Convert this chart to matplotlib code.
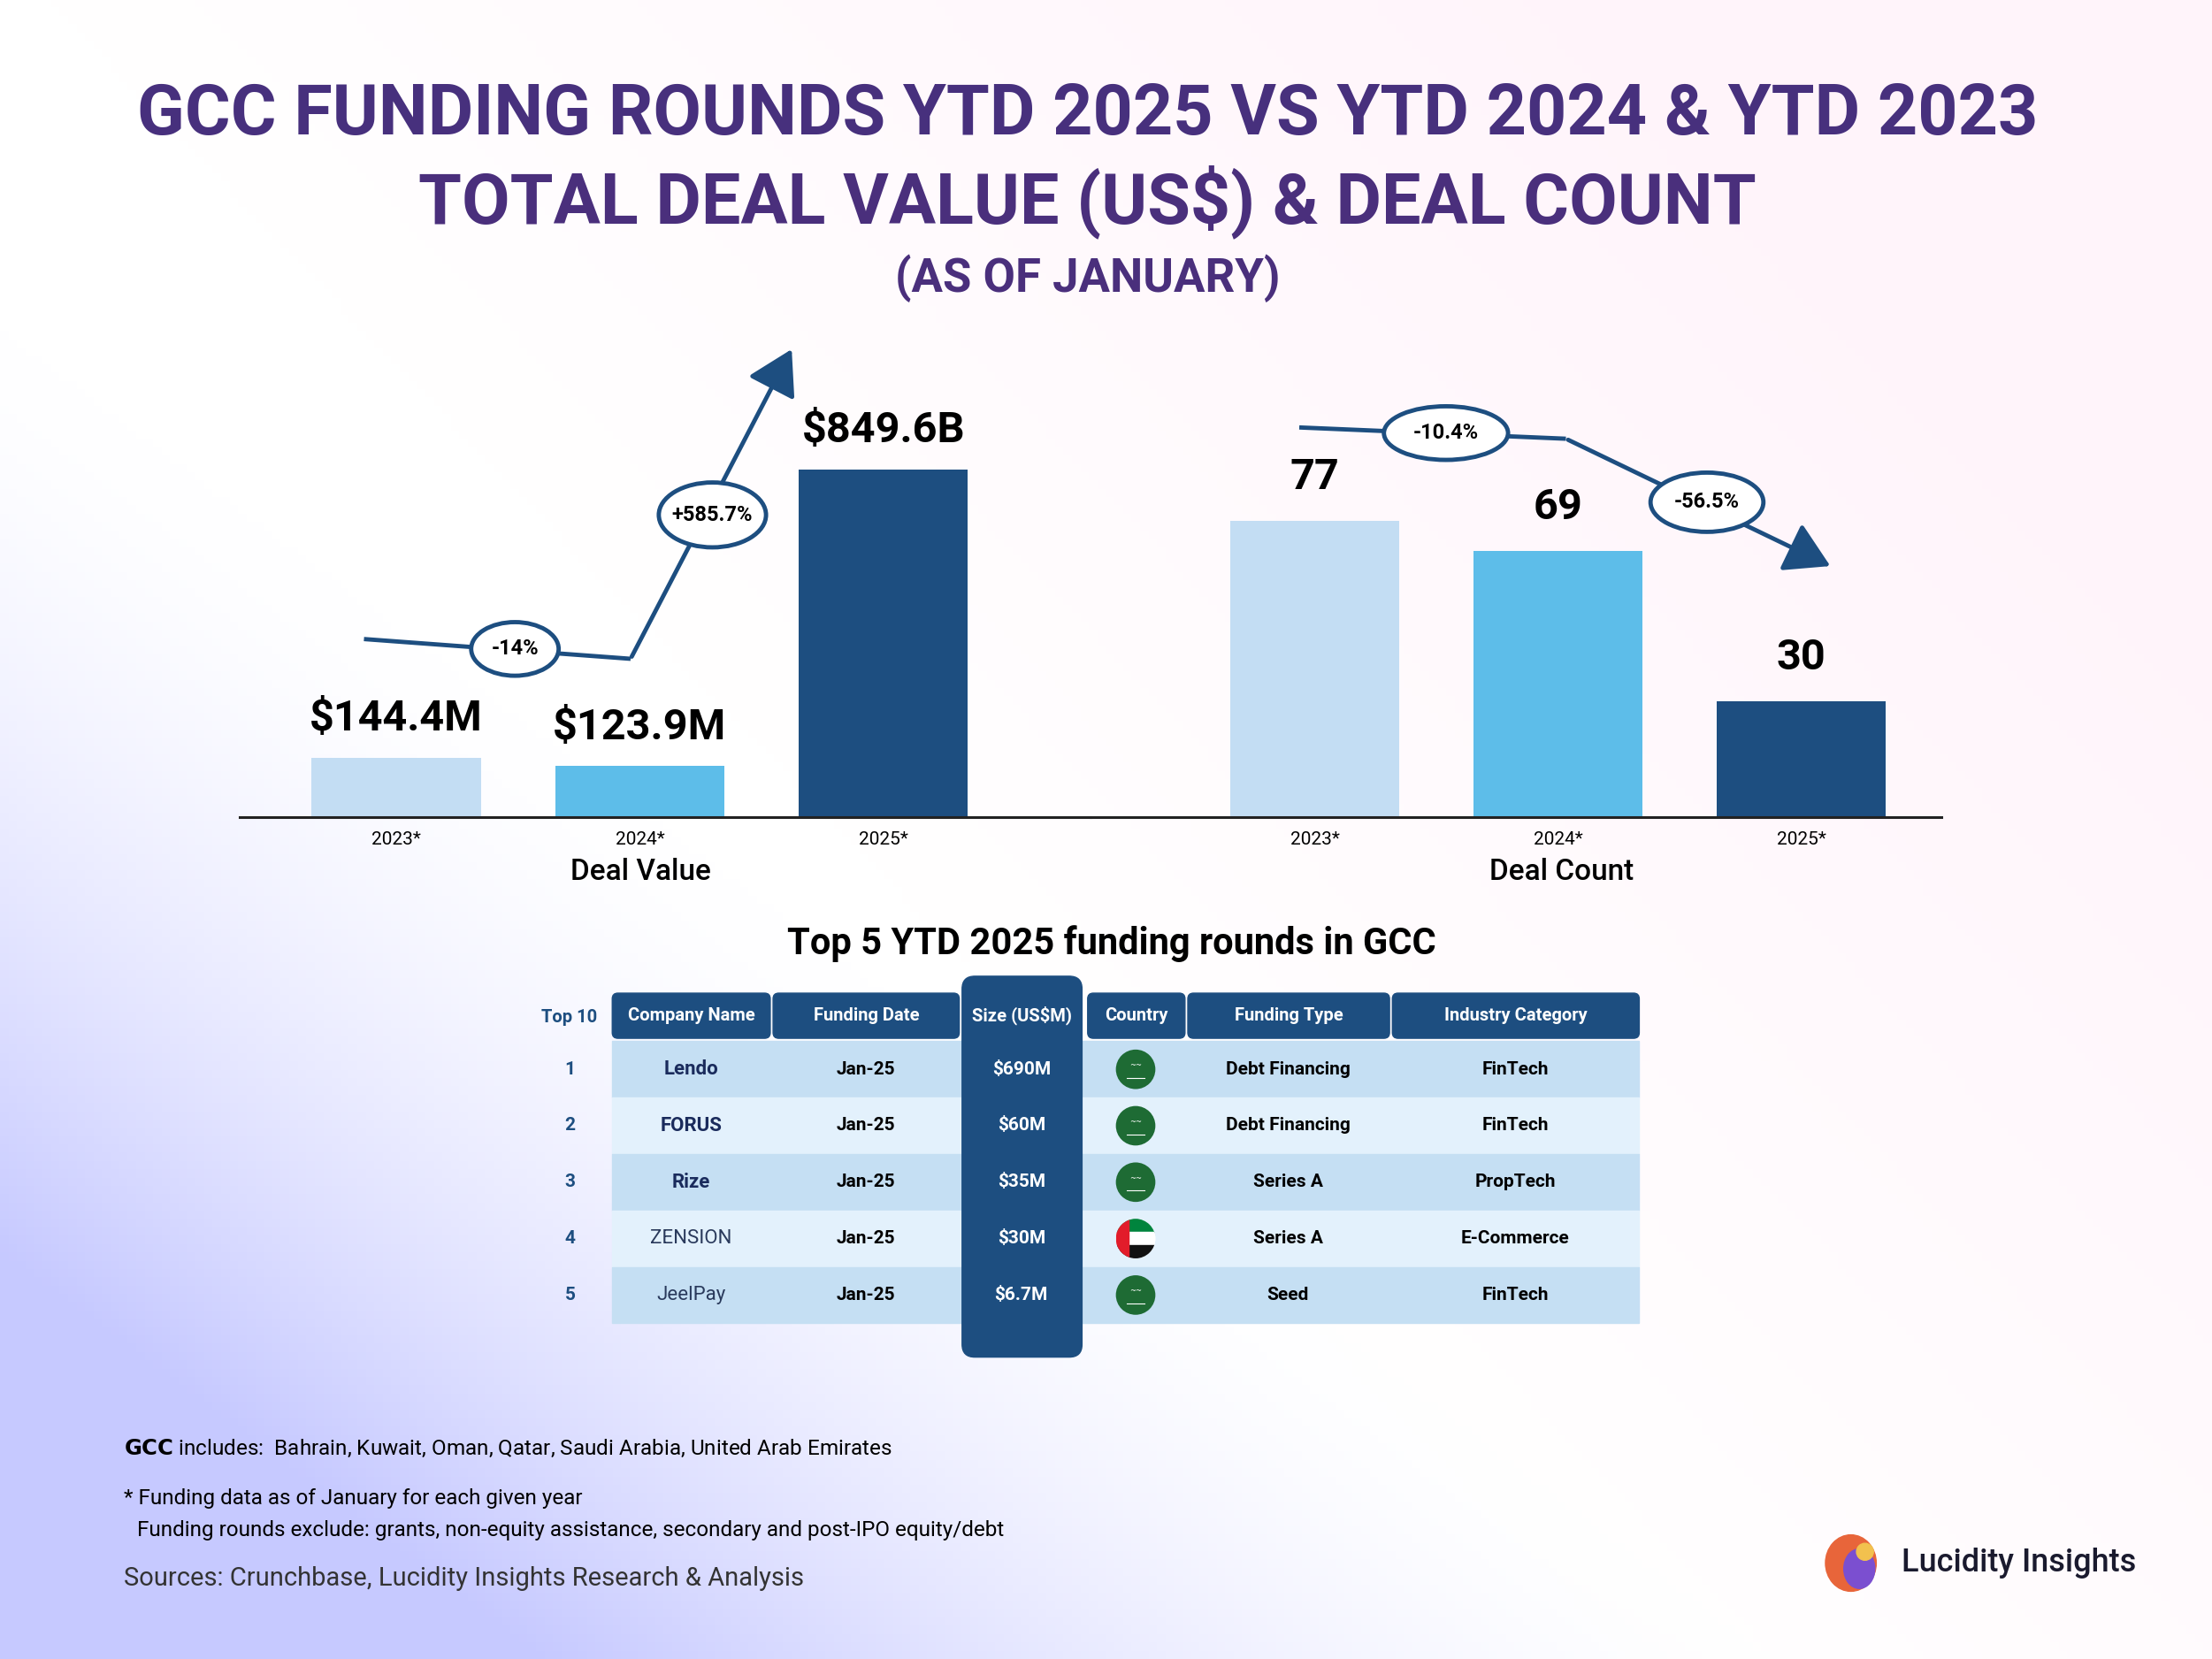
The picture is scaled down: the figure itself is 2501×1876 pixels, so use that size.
import numpy as np
import matplotlib.pyplot as plt
from matplotlib.patches import Ellipse, FancyBboxPatch, Rectangle, Circle, FancyArrowPatch

# data
years = ["2023*", "2024*", "2025*"]
deal_value = [144.4, 123.9, 849.6]          # US$ M (bar heights)
deal_value_labels = ["$144.4M", "$123.9M", "$849.6B"]
deal_count = [77, 69, 30]
bar_colors = ["#c3ddf3", "#5dbde9", "#1d4e80"]
value_changes = ["-14%", "+585.7%"]
count_changes = ["-10.4%", "-56.5%"]

table_header = ["Top 10", "Company Name", "Funding Date", "Size (US$M)", "Country", "Funding Type", "Industry Category"]
ranks = ["1", "2", "3", "4", "5"]
companies = ["Lendo", "FORUS", "Rize", "ZENSION", "JeelPay"]
dates = ["Jan-25", "Jan-25", "Jan-25", "Jan-25", "Jan-25"]
sizes = ["$690M", "$60M", "$35M", "$30M", "$6.7M"]
countries = ["KSA", "KSA", "KSA", "UAE", "KSA"]
funding_types = ["Debt Financing", "Debt Financing", "Series A", "Series A", "Seed"]
industries = ["FinTech", "FinTech", "PropTech", "E-Commerce", "FinTech"]

W, H = 1568, 1176
NAVY = "#1d4e80"
BF = "Roboto"

fig = plt.figure(figsize=(25.01, 18.76), dpi=100)
bg = fig.add_axes([0, 0, 1, 1])
bg.set_xlim(0, W)
bg.set_ylim(H, 0)
bg.axis("off")

# background gradient
yy, xx = np.mgrid[0:1:200j, 0:1:260j]
pink = np.clip((xx - 0.45) * 1.4 + (0.6 - yy), 0, 1) * 0.35
lav = np.clip((0.35 - xx) * 1.8 + (yy - 0.55) * 1.8, 0, 1) ** 1.6 * 0.55
img = np.ones((200, 260, 3))
img[..., 0] -= lav * 0.4
img[..., 1] -= lav * 0.38 + pink * 0.12
img[..., 2] -= pink * 0.05
bg.imshow(np.clip(img, 0, 1), extent=[0, W, H, 0], aspect="auto", zorder=0)

# title
tfont = dict(family=BF, weight="bold", ha="center", va="center")
bg.text(771, 82, "GCC FUNDING ROUNDS YTD 2025 VS YTD 2024 & YTD 2023", fontsize=57, color="#47307d", **tfont)
bg.text(771, 143, "TOTAL DEAL VALUE (US$) & DEAL COUNT", fontsize=57, color="#4a2f7c", **tfont)
bg.text(771, 197, "(AS OF JANUARY)", fontsize=38, color="#4a2f7c", **tfont)

# bar charts
def bar_axes(x0, x1, xlim, ylim):
    ax = fig.add_axes([x0 / W, 1 - 579 / H, (x1 - x0) / W, 339 / H])
    ax.set_xlim(*xlim)
    ax.set_ylim(0, ylim)
    ax.patch.set_alpha(0)
    for s in ["top", "right", "left"]:
        ax.spines[s].set_visible(False)
    ax.spines["bottom"].set_linewidth(2.2)
    ax.spines["bottom"].set_color("#222222")
    ax.set_yticks([])
    ax.tick_params(axis="x", length=0, pad=12)
    return ax

ax1 = bar_axes(170, 773, (-0.642, 2.85), 849.6 * 339 / 246)
ax1.bar(range(3), deal_value, width=0.694, color=bar_colors)
ax1.set_xticks(range(3), years, family=BF, fontsize=15)
ax1.set_xlabel("Deal Value", fontsize=24, family=BF, weight="medium")
ax1.xaxis.set_label_coords((454 - 170) / 603, -0.085)
for i, (v, lab) in enumerate(zip(deal_value, deal_value_labels)):
    ax1.text(i, v + 45, lab, ha="center", va="bottom", fontsize=35, weight="bold", family=BF)

ax2 = bar_axes(773, 1376, (-0.922, 2.574), 77 * 339 / 210)
ax2.bar(range(3), deal_count, width=0.694, color=bar_colors)
ax2.set_xticks(range(3), years, family=BF, fontsize=15)
ax2.set_xlabel("Deal Count", fontsize=24, family=BF, weight="medium")
ax2.xaxis.set_label_coords((1107 - 773) / 603, -0.085)
for i, v in enumerate(deal_count):
    ax2.text(i, v + 6, str(v), ha="center", va="bottom", fontsize=35, weight="bold", family=BF)

# trend arrows
def trend(pts, labels, centers, sizes_):
    xs, ys = zip(*pts)
    bg.plot(xs[:-1], ys[:-1], color=NAVY, lw=3.5, zorder=3, solid_capstyle="butt")
    bg.add_patch(FancyArrowPatch(pts[-2], pts[-1], arrowstyle="-|>,head_length=2.2,head_width=1.3",
                                 mutation_scale=14, color=NAVY, lw=3.5, zorder=3))
    for lab, c, s in zip(labels, centers, sizes_):
        bg.add_patch(Ellipse(c, s[0], s[1], facecolor="white", edgecolor=NAVY, lw=3.5, zorder=4))
        bg.text(c[0], c[1], lab, ha="center", va="center", fontsize=17, weight="bold", family=BF, zorder=5)

trend([(258, 453), (447, 467), (562, 246)], value_changes, [(365, 460), (505, 365)], [(62, 38), (76, 46)])
trend([(921, 303), (1110, 311), (1299, 402)], count_changes, [(1025, 307), (1210, 356)], [(88, 38), (80, 42)])

# table
bg.text(788, 669, "Top 5 YTD 2025 funding rounds in GCC", ha="center", va="center", fontsize=30, weight="bold", family=BF)
cols = [(375, 432), (434, 546), (548, 680), (682, 767), (771, 840), (842, 985), (987, 1162)]
row_y = [738, 778, 818, 858, 898, 938]
for i in range(5):
    bg.add_patch(Rectangle((434, row_y[i]), 728, 40, color="#c5dff3" if i % 2 == 0 else "#e3f1fc", zorder=2))
bg.add_patch(FancyBboxPatch((682, 692), 85, 270, boxstyle="round,pad=0,rounding_size=9", color=NAVY, zorder=3))
for j, (a, b) in enumerate(cols):
    cx = (a + b) / 2
    if j == 0:
        bg.text(cx, 721, table_header[j], ha="center", va="center", fontsize=14.5, weight="bold", color=NAVY, family=BF)
    else:
        if j != 3:
            bg.add_patch(FancyBboxPatch((a, 704), b - a, 32, boxstyle="round,pad=0,rounding_size=4", color=NAVY, zorder=3))
        bg.text(cx, 720, table_header[j], ha="center", va="center", fontsize=14.5, weight="bold", color="white", family=BF, zorder=4)

logo_col = {"Lendo": "#1a2b5c", "FORUS": "#1a2b5c", "Rize": "#1a2b5c", "ZENSION": "#2a3a5c", "JeelPay": "#2a3a5c"}
for i in range(5):
    cy = (row_y[i] + row_y[i + 1]) / 2
    tk = dict(ha="center", va="center", fontsize=15, weight="bold", family=BF, zorder=5)
    bg.text(404, cy, ranks[i], color=NAVY, **tk)
    wt = "normal" if companies[i] in ("ZENSION", "JeelPay") else "bold"
    bg.text(490, cy, companies[i], ha="center", va="center", fontsize=16, weight=wt, family=BF,
            color=logo_col[companies[i]], zorder=5)
    bg.text(614, cy, dates[i], **tk)
    bg.text(724, cy, sizes[i], color="white", **tk)
    bg.text(913, cy, funding_types[i], **tk)
    bg.text(1074, cy, industries[i], **tk)
    # flag
    circ = Circle((805, cy), 14, facecolor="#1e6b34", edgecolor="none", zorder=5)
    bg.add_patch(circ)
    if countries[i] == "UAE":
        circ.set_facecolor("white")
        for k, c in enumerate(["#00843d", "white", "#111111"]):
            r = Rectangle((791, cy - 14 + k * 9.33), 28, 9.33, color=c, zorder=6)
            bg.add_patch(r)
            r.set_clip_path(circ)
        r = Rectangle((791, cy - 14), 9, 28, color="#e21c2a", zorder=7)
        bg.add_patch(r)
        r.set_clip_path(circ)
    else:
        bg.text(805, cy - 3, "~~", ha="center", va="center", fontsize=6, color="white", zorder=6)
        bg.plot([799, 811], [cy + 6, cy + 6], color="white", lw=0.8, zorder=6)

# footer
ft = dict(ha="left", va="center", family=BF, fontsize=17.5)
bg.text(88, 1027, r"$\bf{GCC}$ includes:  Bahrain, Kuwait, Oman, Qatar, Saudi Arabia, United Arab Emirates", **ft)
bg.text(88, 1062, "* Funding data as of January for each given year", **ft)
bg.text(97, 1085, "Funding rounds exclude: grants, non-equity assistance, secondary and post-IPO equity/debt", **ft)
bg.text(88, 1119, "Sources: Crunchbase, Lucidity Insights Research & Analysis", color="#333333",
        ha="left", va="center", family=BF, fontsize=21)

# logo
bg.add_patch(Ellipse((1312, 1108), 36, 40, color="#e8653a", zorder=3))
bg.add_patch(Ellipse((1318, 1112), 22, 28, color="#7b4fd0", zorder=4))
bg.add_patch(Circle((1322, 1100), 6, color="#f2c14e", zorder=5))
bg.text(1348, 1108, "Lucidity Insights", ha="left", va="center", family=BF, fontsize=26, weight="medium", color="#1a1a2e")

fig.savefig("out.png", dpi=100)
